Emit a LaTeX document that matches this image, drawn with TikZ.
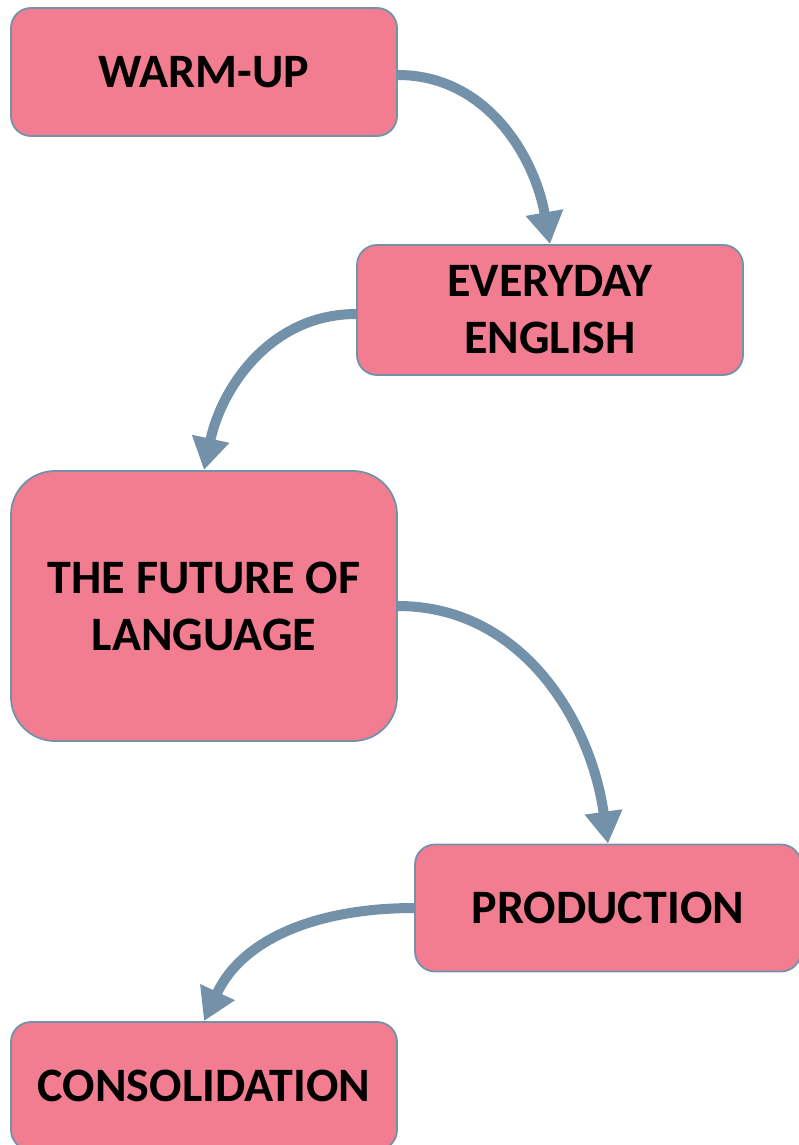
\documentclass[tikz,border=0pt]{standalone}
\usepackage{fontspec}
\setmainfont{Carlito}
\usepackage{xcolor}
\usepackage{tikz}
\usetikzlibrary{positioning,arrows.meta}

\definecolor{boxpink}{RGB}{242,125,145}
\definecolor{flowblue}{RGB}{115,146,170}

\tikzset{
  stage/.style={draw=flowblue, line width=1.8pt, fill=boxpink, rounded corners=20pt,
    minimum width=386pt, minimum height=128pt, align=center, text=black,
    font=\fontsize{48}{57}\selectfont\bfseries},
  flow/.style={draw=flowblue, line width=10pt,
    -{Triangle[width=36pt,length=32pt]}}
}

\begin{document}
\begin{tikzpicture}[x=1pt,y=1pt]
		\useasboundingbox (0,0) rectangle (798,-1145);
		\node[stage] (warmup) at (204,-72) {WARM-UP};
		\node[stage, minimum height=130pt] (everyday) at (550,-310) {EVERYDAY\\ENGLISH};
		\node[stage, minimum height=270pt, rounded corners=44pt] (future) at (204,-606) {THE FUTURE OF\\LANGUAGE};
		\node[stage, minimum height=127pt] (production) at (608,-908) {PRODUCTION};
		\node[stage] (consolidation) at (204,-1086) {CONSOLIDATION};
		
		\draw[flow] (warmup.east |- 0,-75) to[out=0, in=100] (everyday.north);
		\draw[flow] (everyday.west |- 0,-314) to[out=180, in=78] (future.north);
		\draw[flow] (future.east |- 0,-606) to[out=0, in=98] (production.north);
		\draw[flow] (production.west |- 0,-908) to[out=180, in=65] (consolidation.north);
	\end{tikzpicture}
\end{document}
